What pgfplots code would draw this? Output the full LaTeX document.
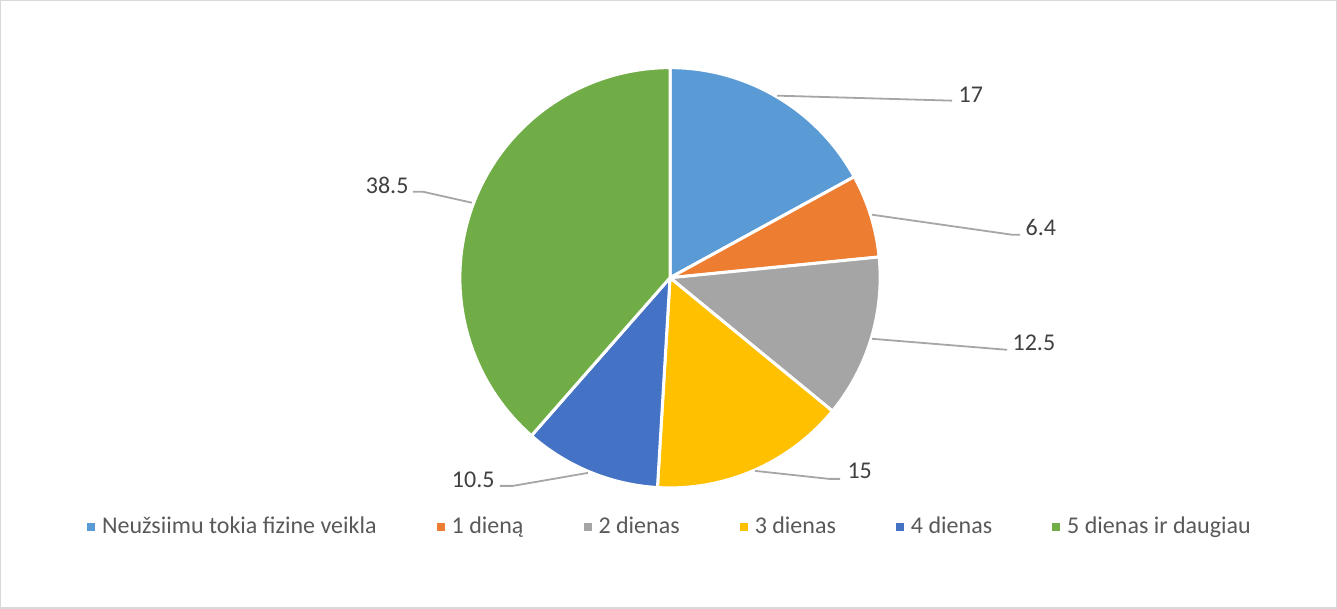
\documentclass[border=0pt]{standalone}
\usepackage{pgfplots}
\pgfplotsset{compat=1.18}
\usepackage{fontspec}
\setmainfont{Carlito}
\definecolor{cA}{HTML}{5B9BD5}
\definecolor{cB}{HTML}{ED7D31}
\definecolor{cC}{HTML}{A5A5A5}
\definecolor{cD}{HTML}{FFC000}
\definecolor{cE}{HTML}{4472C4}
\definecolor{cF}{HTML}{70AD47}
\definecolor{txt}{HTML}{404040}
\definecolor{legtxt}{HTML}{595959}
\definecolor{lead}{HTML}{A6A6A6}
\definecolor{frame}{HTML}{D9D9D9}
% values
\def\vA{17}\def\vB{6.4}\def\vC{12.5}\def\vD{15}\def\vE{10.5}\def\vF{38.5}
\pgfmathsetmacro\tot{\vA+\vB+\vC+\vD+\vE+\vF}
\pgfmathsetmacro\aA{90}
\pgfmathsetmacro\aB{\aA-360*\vA/\tot}
\pgfmathsetmacro\aC{\aB-360*\vB/\tot}
\pgfmathsetmacro\aD{\aC-360*\vC/\tot}
\pgfmathsetmacro\aE{\aD-360*\vD/\tot}
\pgfmathsetmacro\aF{\aE-360*\vE/\tot}
\pgfmathsetmacro\aG{\aF-360*\vF/\tot}
\newcommand\slice[3]{%
  \addplot[fill=#1, draw=white, line width=1.5pt, domain=#3:#2, samples=80, variable=\t]
    ({670+210*cos(\t)},{278-210*sin(\t)}) -- (axis cs:670,278) -- cycle;}
\newcommand\gp{\hspace*{1.5pt}}
\begin{document}
\begin{tikzpicture}
\begin{axis}[
  width=668.5pt, height=304.5pt, scale only axis,
  xmin=0, xmax=1337, ymin=0, ymax=609, y dir=reverse,
  hide axis, clip=false,
  legend image code/.code={\fill[#1, draw=none] (0pt,-2pt) rectangle (4pt,2pt);},
  legend columns=6,
  legend style={draw=none, fill=none, at={(671/1337,1-527/609)}, anchor=center,
    font=\fontsize{12}{14}\selectfont, text=legtxt,
    /tikz/every even column/.append style={column sep=28pt}},
]
\draw[frame, line width=0.6pt] (axis cs:1,1) rectangle (axis cs:1336,608);
\slice{cA}{\aA}{\aB}
\slice{cB}{\aB}{\aC}
\slice{cC}{\aC}{\aD}
\slice{cD}{\aD}{\aE}
\slice{cE}{\aE}{\aF}
\slice{cF}{\aF}{\aG}
\legend{\gp Neužsiimu tokia fizine veikla, \gp 1 dieną, \gp 2 dienas, \gp 3 dienas, \gp 4 dienas, \gp 5 dienas ir daugiau}
\begin{scope}[lead, line width=0.9pt]
\draw (axis cs:777,96) -- (axis cs:952,101);
\draw (axis cs:872,215) -- (axis cs:1012,235) -- (axis cs:1020,235);
\draw (axis cs:872,339) -- (axis cs:1007,350);
\draw (axis cs:755,471) -- (axis cs:829,479) -- (axis cs:840,479);
\draw (axis cs:588,473) -- (axis cs:513,486) -- (axis cs:500,486);
\draw (axis cs:472,203) -- (axis cs:423,192) -- (axis cs:413,192);
\end{scope}
\begin{scope}[every node/.style={text=txt, font=\fontsize{12}{14}\selectfont, inner sep=1pt}]
\node[anchor=west] at (axis cs:956,95) {17};
\node[anchor=west] at (axis cs:1023,228) {6.4};
\node[anchor=west] at (axis cs:1010,343) {12.5};
\node[anchor=west] at (axis cs:845,471) {15};
\node[anchor=east] at (axis cs:497,480) {10.5};
\node[anchor=east] at (axis cs:411,186) {38.5};
\end{scope}
\end{axis}
\end{tikzpicture}
\end{document}
